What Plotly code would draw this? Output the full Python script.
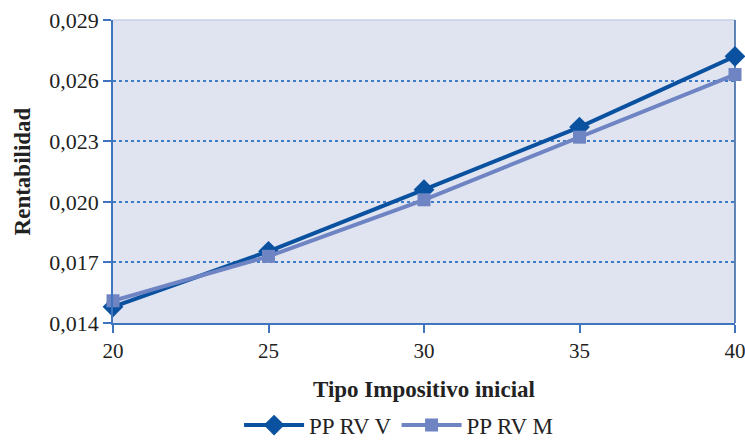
import plotly.graph_objects as go

x_vals = [20, 25, 30, 35, 40]
pp_rv_v = [0.0148, 0.01755, 0.0206, 0.0237, 0.0272]
pp_rv_m = [0.0151, 0.0173, 0.0201, 0.0232, 0.0263]
y_ticks = [0.014, 0.017, 0.020, 0.023, 0.026, 0.029]
y_tick_labels = ["0,014", "0,017", "0,020", "0,023", "0,026", "0,029"]
x_ticks = [20, 25, 30, 35, 40]

FONT = "Liberation Serif, DejaVu Serif, serif"
axis_blue = "#3F74BE"
TXT = "#222222"

fig = go.Figure()
fig.add_trace(go.Scatter(
    x=x_vals, y=pp_rv_v, name="PP RV V", mode="lines+markers",
    line=dict(color="#0A52A0", width=4),
    marker=dict(symbol="diamond", size=16, color="#0A52A0"),
    cliponaxis=False,
))
fig.add_trace(go.Scatter(
    x=x_vals, y=pp_rv_m, name="PP RV M", mode="lines+markers",
    line=dict(color="#6E84C3", width=4),
    marker=dict(symbol="square", size=13, color="#6E84C3"),
    cliponaxis=False,
))

# top and right frame lines
fig.add_shape(type="line", xref="paper", yref="paper", x0=0, x1=1, y0=1, y1=1,
              line=dict(color="#C9D1E8", width=1.5), layer="below")
fig.add_shape(type="line", xref="paper", yref="paper", x0=1, x1=1, y0=0, y1=1,
              line=dict(color="#2E5F9E", width=1.5), layer="below")

fig.update_layout(
    width=745, height=441,
    margin=dict(l=113, r=10, t=20, b=118, autoexpand=False),
    paper_bgcolor="white",
    plot_bgcolor="#E0E4F1",
    font=dict(family=FONT, size=21, color=TXT),
    showlegend=True,
    legend=dict(orientation="h", xref="container", yref="container",
                x=0.535, xanchor="center", y=0.036, yanchor="middle",
                font=dict(family=FONT, size=23, color=TXT),
                itemwidth=60, tracegroupgap=0, bgcolor="rgba(0,0,0,0)"),
    xaxis=dict(
        range=[20, 40], tickvals=x_ticks, showgrid=False, zeroline=False,
        automargin=False, ticklabeloverflow="allow",
        showline=True, linecolor=axis_blue, linewidth=1.5,
        ticks="outside", ticklen=8, tickcolor=axis_blue, tickwidth=1.5,
        tickfont=dict(family=FONT, size=21, color=TXT),
        title=dict(text="<b>Tipo Impositivo inicial</b>", standoff=19,
                   font=dict(family=FONT, size=23, color=TXT)),
    ),
    yaxis=dict(
        range=[0.014, 0.029], tickvals=y_ticks, ticktext=y_tick_labels,
        automargin=False,
        showgrid=True, gridcolor="#3F7CC8", griddash="dot", gridwidth=1.5,
        zeroline=False, showline=True, linecolor=axis_blue, linewidth=1.5,
        ticks="outside", ticklen=8, tickcolor=axis_blue, tickwidth=1.5,
        tickfont=dict(family=FONT, size=22, color=TXT),
        title=dict(text="<b>Rentabilidad</b>", standoff=12,
                   font=dict(family=FONT, size=23, color=TXT)),
    ),
)

fig.write_html("out.html")
